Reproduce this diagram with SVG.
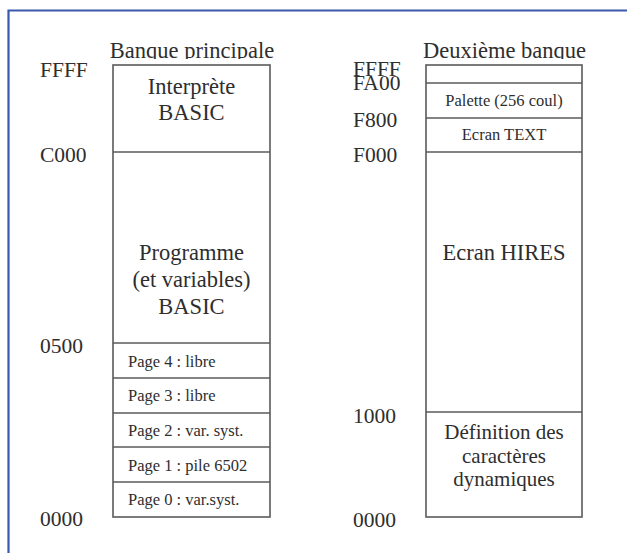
<svg xmlns="http://www.w3.org/2000/svg" width="627" height="553" viewBox="0 0 627 553">
<defs>
<style>
.t{font-family:"Liberation Serif","Times New Roman",Tinos,"DejaVu Serif",serif;fill:#2e2e2e}
.big{font-size:22.5px}
.addr{font-size:21.5px}
.sm{font-size:16.5px}
.mid{text-anchor:middle}
.box{fill:#fff;stroke:#5a5a5a;stroke-width:1.6}
.ln{stroke:#5a5a5a;stroke-width:1.6}
</style>
<clipPath id="clipTitle"><rect x="0" y="0" width="627" height="59"/></clipPath>
</defs>
<rect x="0" y="0" width="627" height="553" fill="#fff"/>
<path d="M8.5,553 V10.5 H627" fill="none" stroke="#3a58ad" stroke-width="2.2"/>

<g id="bank-main">
<text class="t big mid" x="192" y="58" clip-path="url(#clipTitle)">Banque principale</text>
<rect class="box" x="113" y="65" width="157" height="452"/>
<line class="ln" x1="113" y1="152" x2="270" y2="152"/>
<line class="ln" x1="113" y1="343" x2="270" y2="343"/>
<line class="ln" x1="113" y1="378" x2="270" y2="378"/>
<line class="ln" x1="113" y1="413" x2="270" y2="413"/>
<line class="ln" x1="113" y1="447" x2="270" y2="447"/>
<line class="ln" x1="113" y1="482" x2="270" y2="482"/>
</g>
<g id="addr-main">
<text class="t addr" x="40" y="77">FFFF</text>
<text class="t addr" x="40" y="162">C000</text>
<text class="t addr" x="40" y="353">0500</text>
<text class="t addr" x="40" y="526">0000</text>
</g>
<g id="interp">
<text class="t big mid" x="191.5" y="94">Interprète</text>
<text class="t big mid" x="191.5" y="120">BASIC</text>
</g>
<g id="prog">
<text class="t big mid" x="191.5" y="260">Programme</text>
<text class="t big mid" x="191.5" y="287">(et variables)</text>
<text class="t big mid" x="191.5" y="314">BASIC</text>
</g>
<g id="pages">
<text class="t sm" x="128" y="367">Page 4 : libre</text>
<text class="t sm" x="128" y="401">Page 3 : libre</text>
<text class="t sm" x="128" y="436">Page 2 : var. syst.</text>
<text class="t sm" x="128" y="471">Page 1 : pile 6502</text>
<text class="t sm" x="128" y="505">Page 0 : var.syst.</text>
</g>

<g id="bank-second">
<text class="t big mid" x="504.5" y="58" clip-path="url(#clipTitle)">Deuxième banque</text>
<rect class="box" x="426" y="65" width="156" height="452"/>
<line class="ln" x1="426" y1="83" x2="582" y2="83"/>
<line class="ln" x1="426" y1="118" x2="582" y2="118"/>
<line class="ln" x1="426" y1="152" x2="582" y2="152"/>
<line class="ln" x1="426" y1="412" x2="582" y2="412"/>
</g>
<g id="addr-second">
<text class="t addr" x="353" y="76">FFFF</text>
<text class="t addr" x="353" y="90">FA00</text>
<text class="t addr" x="353" y="127">F800</text>
<text class="t addr" x="353" y="162">F000</text>
<text class="t addr" x="353" y="423">1000</text>
<text class="t addr" x="353" y="527">0000</text>
</g>
<g id="palette"><text class="t sm mid" x="504" y="106">Palette (256 coul)</text></g>
<g id="text-screen"><text class="t sm mid" x="504" y="140">Ecran TEXT</text></g>
<g id="hires"><text class="t big mid" x="504" y="260">Ecran HIRES</text></g>
<g id="chardef">
<text class="t mid" style="font-size:21px" x="504" y="439">Définition des</text>
<text class="t mid" style="font-size:21px" x="504" y="463">caractères</text>
<text class="t mid" style="font-size:21px" x="504" y="486">dynamiques</text>
</g>
</svg>
